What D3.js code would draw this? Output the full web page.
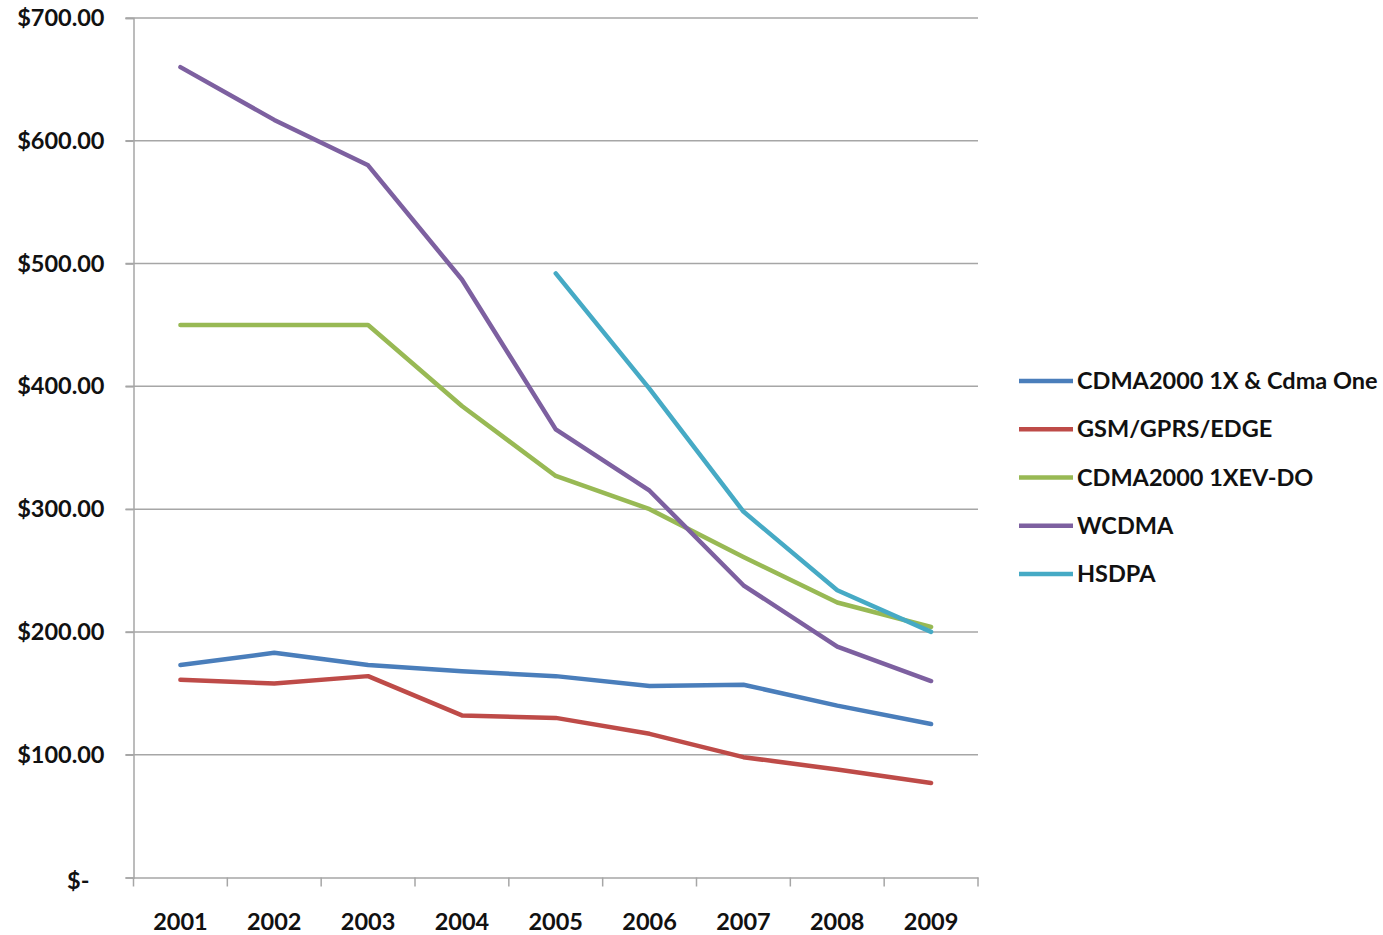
<!DOCTYPE html>
<html>
<head>
<meta charset="utf-8">
<script src="https://cdn.jsdelivr.net/npm/d3@7"></script>
<style>
  html, body { margin: 0; padding: 0; background: #fff; }
  svg { display: block; }
  text { font-family: Lato, "Open Sans", "DejaVu Sans", sans-serif; font-weight: 700; fill: #111; }
</style>
</head>
<body>
<svg id="chart" width="1383" height="935"></svg>
<script>
const years = ["2001","2002","2003","2004","2005","2006","2007","2008","2009"];
const seriesNames = ["CDMA2000 1X & Cdma One","GSM/GPRS/EDGE","CDMA2000 1XEV-DO","WCDMA","HSDPA"];
const seriesColors = ["#4A7EBB","#BE4B48","#98B954","#7D60A0","#46AAC5"];
const cdma1x = [173, 183, 173, 168, 164, 156, 157, 140, 125];
const gsm    = [161, 158, 164, 132, 130, 117, 98, 88, 77];
const evdo   = [450, 450, 450, 384, 327, 300, 261, 224, 204];
const wcdma  = [660, 617, 580, 487, 365, 315, 238, 188, 160];
const hsdpa  = [null, null, null, null, 492, 398, 298, 234, 200];
const yTicks = [0, 100, 200, 300, 400, 500, 600, 700];

const seriesValues = [cdma1x, gsm, evdo, wcdma, hsdpa];

const svg = d3.select("#chart");
const plotLeft = 133.5, plotRight = 978, plotTop = 18, plotBottom = 877.5;
const fontSize = 23.5;

const x = d3.scaleBand().domain(years).range([plotLeft, plotRight]).padding(0);
const y = d3.scaleLinear().domain([0, 700]).range([plotBottom, plotTop]);

// gridlines
svg.append("g")
  .selectAll("line").data(yTicks.filter(d => d > 0)).join("line")
  .attr("x1", plotLeft - 8).attr("x2", plotRight)
  .attr("y1", d => y(d)).attr("y2", d => y(d))
  .attr("stroke", "#a6a6a6").attr("stroke-width", 1.5);

// y axis
const yAxis = svg.append("g").attr("transform", `translate(${plotLeft},0)`)
  .call(d3.axisLeft(y).tickValues(yTicks).tickSize(8).tickPadding(21)
    .tickFormat(d => d === 0 ? "$-" : "$" + d3.format(".2f")(d)));
yAxis.select(".domain").attr("stroke", "#a6a6a6").attr("stroke-width", 1.5);
yAxis.selectAll(".tick line").attr("stroke", "#a6a6a6").attr("stroke-width", 1.5);
yAxis.selectAll(".tick text").attr("font-size", fontSize).attr("fill", "#111")
  .attr("font-family", "Lato, 'Open Sans', sans-serif").attr("font-weight", 700)
  .attr("dx", d => d === 0 ? -15 : 0).attr("dy", d => d === 0 ? "0.45em" : "0.32em");

// x axis
const xAxis = svg.append("g").attr("transform", `translate(0,${plotBottom})`)
  .call(d3.axisBottom(x).tickSize(0).tickPadding(36));
xAxis.select(".domain").attr("stroke", "#a6a6a6").attr("stroke-width", 1.5);
xAxis.selectAll(".tick text").attr("font-size", fontSize).attr("fill", "#111")
  .attr("font-family", "Lato, 'Open Sans', sans-serif").attr("font-weight", 700);
// category boundary ticks
const edges = years.map(d => x(d)).concat([x(years[years.length-1]) + x.bandwidth()]);
xAxis.append("g").selectAll("line").data(edges).join("line")
  .attr("x1", d => d).attr("x2", d => d).attr("y1", 0).attr("y2", 9)
  .attr("stroke", "#a6a6a6").attr("stroke-width", 1.5);

// lines
const line = d3.line()
  .defined(d => d.v !== null)
  .x(d => x(d.year) + x.bandwidth() / 2)
  .y(d => y(d.v));

seriesValues.forEach((vals, i) => {
  svg.append("path")
    .datum(years.map((yr, j) => ({ year: yr, v: vals[j] })))
    .attr("fill", "none")
    .attr("stroke", seriesColors[i])
    .attr("stroke-width", 4.5)
    .attr("stroke-linejoin", "round")
    .attr("stroke-linecap", "round")
    .attr("d", line);
});

// legend
const legend = svg.append("g");
const legY = d3.scalePoint().domain(seriesNames).range([381, 574]);
seriesNames.forEach((name, i) => {
  const g = legend.append("g").attr("transform", `translate(0,${legY(name)})`);
  g.append("line").attr("x1", 1019).attr("x2", 1073).attr("y1", 0).attr("y2", 0)
    .attr("stroke", seriesColors[i]).attr("stroke-width", 4.5);
  g.append("text").attr("x", 1077).attr("y", 0).attr("dy", "0.35em")
    .attr("font-size", fontSize).text(name);
});
</script>
</body>
</html>
